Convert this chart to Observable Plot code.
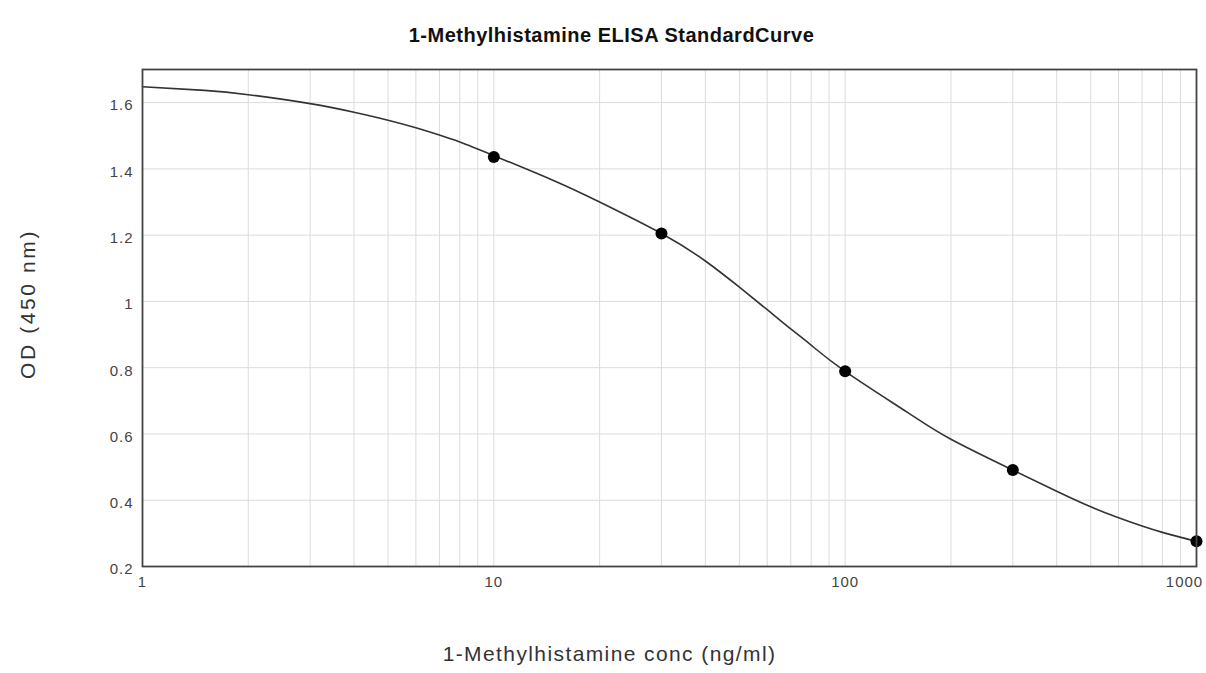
<!DOCTYPE html>
<html>
<head>
<meta charset="utf-8">
<script src="https://cdn.jsdelivr.net/npm/d3@7"></script>
<script src="https://cdn.jsdelivr.net/npm/@observablehq/plot@0.6"></script>
<style>
  html, body { margin: 0; padding: 0; background: #fff; }
  body { width: 1206px; height: 673px; overflow: hidden; }
</style>
</head>
<body>
<div id="chart"></div>
<script>
// Standard points (concentration ng/ml, OD 450 nm)
const stdConc = [10, 30, 100, 300, 1000];
const stdOD = [1.436, 1.205, 0.789, 0.491, 0.276];

// Fitted curve
const curveConc = [1, 1.5, 2, 3, 4, 5, 6, 7, 8, 10, 15, 20, 30, 40, 50, 60, 70, 80, 100, 150, 200, 300, 400, 500, 600, 700, 800, 1000];
const curveOD = [1.648, 1.637, 1.624, 1.597, 1.571, 1.547, 1.524, 1.502, 1.481, 1.440, 1.362, 1.300, 1.205, 1.122, 1.043, 0.975, 0.917, 0.868, 0.789, 0.666, 0.584, 0.491, 0.427, 0.380, 0.347, 0.322, 0.303, 0.276];

const xTickValues = [1, 10, 100];
const xLastTick = [1000];
const yTickValues = [0.2, 0.4, 0.6, 0.8, 1, 1.2, 1.4, 1.6];
const xGridValues = [1,2,3,4,5,6,7,8,9,10,20,30,40,50,60,70,80,90,100,200,300,400,500,600,700,800,900,1000];

const titleText = "1-Methylhistamine ELISA StandardCurve";
const xLabelText = "1-Methylhistamine conc (ng/ml)";
const yLabelText = "OD (450 nm)";

const points = stdConc.map((c, i) => ({conc: c, od: stdOD[i]}));
const curve = curveConc.map((c, i) => ({conc: c, od: curveOD[i]}));

const tickStyle = {tickSize: 0, fontSize: 15, fill: "#444", tickFormat: d => String(d), label: null};

const chart = Plot.plot({
  width: 1206,
  height: 673,
  marginLeft: 142,
  marginRight: 10,
  marginTop: 69,
  marginBottom: 107,
  style: {fontFamily: "'Liberation Sans', Arial, sans-serif", background: "#fff"},
  x: {type: "log", domain: [1, 1000]},
  y: {domain: [0.2, 1.7]},
  marks: [
    Plot.gridX(xGridValues, {stroke: "#dcdcdc", strokeOpacity: 1}),
    Plot.gridY(yTickValues, {stroke: "#dcdcdc", strokeOpacity: 1}),
    Plot.axisX(xTickValues, {...tickStyle, tickPadding: 10}),
    Plot.axisX(xLastTick, {...tickStyle, tickPadding: 10, dx: -12}),
    Plot.axisY(yTickValues, {...tickStyle, tickPadding: 9, dy: 3}),
    Plot.line(curve, {x: "conc", y: "od", stroke: "#333", strokeWidth: 1.6, curve: "natural"}),
    Plot.dot(points, {x: "conc", y: "od", r: 6, fill: "#000", stroke: "none"}),
    Plot.frame({stroke: "#444", strokeWidth: 1.8}),
    Plot.text([titleText], {frameAnchor: "top", dx: -58, dy: -42, text: d => d, fontSize: 20, fontWeight: "bold", fill: "#111"}),
    Plot.text([xLabelText], {frameAnchor: "bottom", dx: -60, dy: 94, text: d => d, fontSize: 21, fill: "#333"}),
    Plot.text([yLabelText], {frameAnchor: "left", textAnchor: "middle", dx: -114, dy: -14, rotate: -90, text: d => d, fontSize: 21, fill: "#333"})
  ]
});
document.getElementById("chart").appendChild(chart);

// letter spacing to match the reference's wide text
const texts = chart.querySelectorAll("g[aria-label=text] text");
texts.forEach(t => {
  if (t.textContent === titleText) t.setAttribute("letter-spacing", "0.5");
  if (t.textContent === xLabelText) t.setAttribute("letter-spacing", "1.4");
  if (t.textContent === yLabelText) t.setAttribute("letter-spacing", "2.6");
});
chart.querySelectorAll("g[aria-label^='x-axis tick label'] text, g[aria-label^='y-axis tick label'] text").forEach(t => t.setAttribute("letter-spacing", "1"));
</script>
</body>
</html>
